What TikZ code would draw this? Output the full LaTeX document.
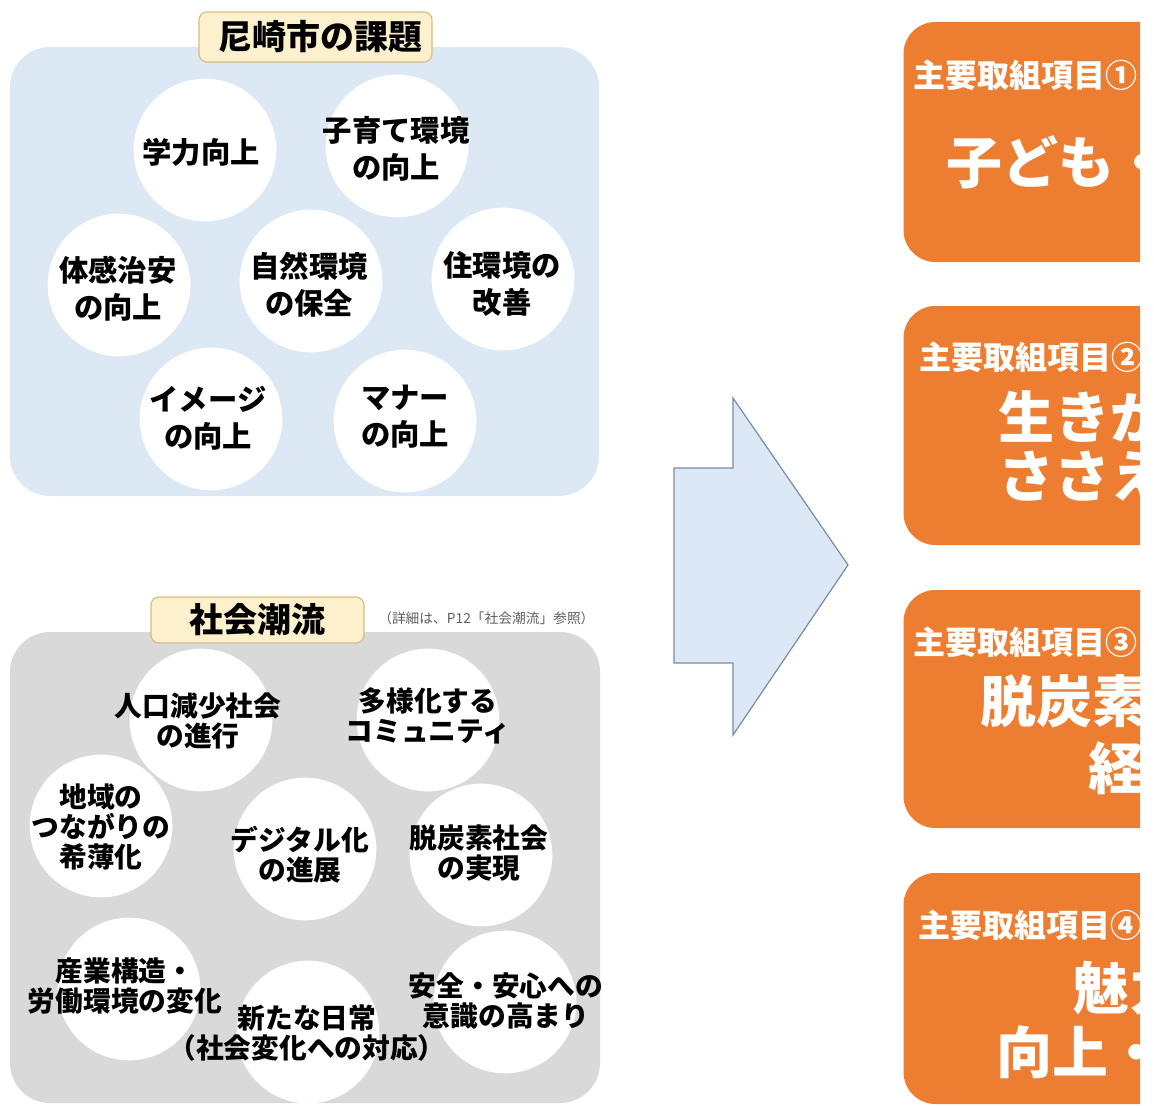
\documentclass[tikz,border=0pt]{standalone}
\usepackage{fontspec}
\setmainfont{Noto Sans CJK JP}
\usepackage{xcolor}
\usepackage{tikz}

\definecolor{kadaiblue}{RGB}{221,232,245}
\definecolor{chouryugray}{RGB}{217,217,217}
\definecolor{titlefill}{RGB}{252,241,204}
\definecolor{titleline}{RGB}{214,190,130}
\definecolor{arrowfill}{RGB}{220,232,246}
\definecolor{arrowline}{RGB}{120,140,165}
\definecolor{torikumi}{RGB}{236,125,49}
\definecolor{notegray}{RGB}{95,95,95}

\begin{document}
\begin{tikzpicture}[x=0.75pt,y=0.75pt,yscale=-1,xscale=1,
  bubble/.style={circle,fill=white,minimum size=107pt,inner sep=0pt},
  kadaitext/.style={align=center,inner sep=0pt,font=\fontsize{22}{27.75}\selectfont\bfseries},
  chouryutext/.style={align=center,inner sep=0pt,font=\fontsize{20.8}{22.5}\selectfont\bfseries},
  titlebox/.style={draw=titleline,fill=titlefill,rounded corners=6pt,line width=0.9pt,font=\fontsize{25.5}{30}\selectfont\bfseries},
  torikumibox/.style={fill=torikumi,rounded corners=24pt,minimum width=222pt},
  headtext/.style={anchor=west,inner sep=0pt,text=white,font=\fontsize{24}{28}\selectfont\bfseries},
  bigtext/.style={anchor=west,inner sep=0pt,text=white,font=\fontsize{42}{46}\selectfont\bfseries}]
\useasboundingbox (0,0) rectangle (1154,1106);
%Shape: Rounded Rectangle [kadai panel]
\fill[kadaiblue,rounded corners=30pt] (10,47) rectangle (599,496);
%Shape: Rounded Rectangle [chouryu panel]
\fill[chouryugray,rounded corners=30pt] (10,632) rectangle (600,1103);
% Title Nodes
\node[titlebox,minimum width=174.75pt,minimum height=37.5pt] (kadaititle) at (315.5,37) {\hspace{8pt}尼崎市の課題};
\node[titlebox,minimum width=159.75pt,minimum height=34.5pt] (chouryutitle) at (257.5,620) {社会潮流};
\node[anchor=west,inner sep=0pt,text=notegray,font=\fontsize{10.3}{12}\selectfont] (note) at (378,618) {（詳細は、P12「社会潮流」参照）};
%Shape: Circle [kadai]
\node[bubble] (gakuryoku) at (205,150) {};
\node[bubble] (kosodate) at (397,146) {};
\node[bubble] (chian) at (119,285) {};
\node[bubble] (shizen) at (311,281) {};
\node[bubble] (jukankyo) at (503,279) {};
\node[bubble] (image) at (211,419) {};
\node[bubble] (manner) at (405,421) {};
% Text Node
\node[kadaitext] (gakuryoku-t) at (201,152) {学力向上};
\node[kadaitext] (kosodate-t) at (396,149) {子育て環境\\の向上};
\node[kadaitext] (chian-t) at (118,289) {体感治安\\の向上};
\node[kadaitext] (shizen-t) at (309,285) {自然環境\\の保全};
\node[kadaitext] (jukankyo-t) at (502,284) {住環境の\\改善};
\node[kadaitext] (image-t) at (208,418) {イメージ\\の向上};
\node[kadaitext] (manner-t) at (405,417) {マナー\\の向上};
%Shape: Circle [chouryu]
\node[bubble] (jinko) at (201,720) {};
\node[bubble] (tayouka) at (428,720) {};
\node[bubble] (chiiki) at (101,826) {};
\node[bubble] (digital) at (305,849) {};
\node[bubble] (datsutanso) at (481,855) {};
\node[bubble] (sangyo) at (129,989) {};
\node[bubble] (nichijo) at (308,1032) {};
\node[bubble] (anzen) at (505,1002) {};
% Text Node
\node[chouryutext] (jinko-t) at (198,721) {人口減少社会\\の進行};
\node[chouryutext] (tayouka-t) at (428,716) {多様化する\\コミュニティ};
\node[chouryutext] (chiiki-t) at (101,827) {地域の\\つながりの\\希薄化};
\node[chouryutext] (digital-t) at (300,855) {デジタル化\\の進展};
\node[chouryutext] (datsutanso-t) at (479,853) {脱炭素社会\\の実現};
\node[chouryutext] (sangyo-t) at (125,986) {産業構造・\\労働環境の変化};
\node[chouryutext] (nichijo-t) at (307,1033) {新たな日常\\（社会変化への対応）};
\node[chouryutext] (anzen-t) at (506,1001) {安全・安心への\\意識の高まり};
%Shape: Right Arrow
\draw[arrowline,fill=arrowfill,line width=0.9pt] (674,468) -- (733,468) -- (733,398) -- (848,565) -- (733,735) -- (733,663) -- (674,663) -- cycle;
%Shape: Rounded Rectangle [torikumi]
\begin{scope}
\clip (0,0) rectangle (1140,1106);
\node[torikumibox,minimum height=180pt] (box1) at (1051.5,142) {};
\node[torikumibox,minimum height=179.25pt] (box2) at (1051.5,425.5) {};
\node[torikumibox,minimum height=178.5pt] (box3) at (1051.5,709) {};
\node[torikumibox,minimum height=173.25pt] (box4) at (1051.5,988.5) {};
% Text Node
\node[headtext] (head1) at (913,75) {主要取組項目①};
\node[headtext] (head2) at (919,357) {主要取組項目②};
\node[headtext] (head3) at (913,642) {主要取組項目③};
\node[headtext] (head4) at (918,925) {主要取組項目④};
\node[bigtext] (main1) at (946,162) {子ども・};
\node[bigtext] (main2a) at (998,416) {生きが};
\node[bigtext] (main2b) at (998,476) {ささえ};
\node[bigtext] (main3a) at (980,701) {脱炭素};
\node[bigtext] (main3b) at (1088,768) {経};
\node[bigtext] (main4a) at (1073,988) {魅力};
\node[bigtext] (main4b) at (996,1052) {向上・};
\end{scope}
\end{tikzpicture}
\end{document}
